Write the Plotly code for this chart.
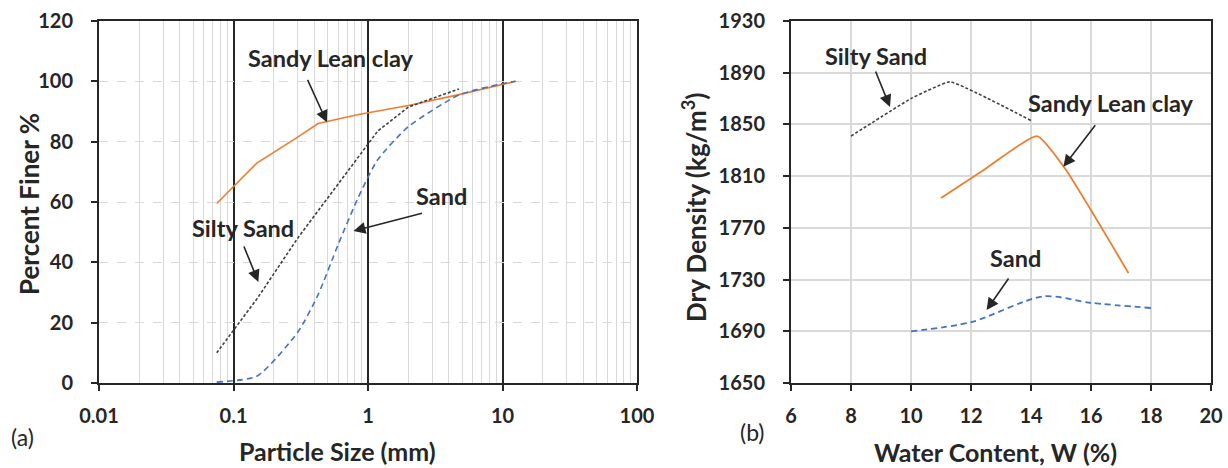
import math
import plotly.graph_objects as go

# ---------------- data: (a) particle size distribution ----------------
clay_size = [0.075, 0.15, 0.3, 0.425, 0.85, 2.0, 4.75, 9.5, 12.5]
clay_pf = [59.5, 73, 81.5, 86, 89, 92, 95.6, 98.8, 100]

silty_size = [0.075, 0.15, 0.3, 0.425, 0.85, 1.18, 2.0, 4.75]
silty_pf = [10, 28, 48, 57, 75, 83.5, 91.5, 97.5]

sand_size = [0.075, 0.15, 0.3, 0.425, 0.6, 0.85, 1.18, 2.0, 4.75, 9.5, 12.5]
sand_pf = [0.3, 2.3, 16.8, 29.2, 45.9, 61.7, 74, 85, 95.5, 99, 100]

# ---------------- data: (b) compaction curves ----------------
silty_w = [8, 10, 11.3, 14]
silty_dd = [1841, 1870, 1883, 1853]

clay_w = [11, 12.5, 14.2, 15.1, 17.25]
clay_dd = [1793, 1816, 1841, 1817, 1735]

sand_w = [10, 12, 14.4, 16, 18]
sand_dd = [1690, 1697, 1717, 1712, 1708]

x_a_ticks = [0.01, 0.1, 1, 10, 100]
x_a_labels = ["0.01", "0.1", "1", "10", "100"]
y_a_ticks = [0, 20, 40, 60, 80, 100, 120]
x_b_ticks = [6, 8, 10, 12, 14, 16, 18, 20]
y_b_ticks = [1650, 1690, 1730, 1770, 1810, 1850, 1890, 1930]

ORANGE = "#ED7D31"
BLUE = "#4472C4"
DARK = "#404040"
AXC = "#262626"
GRID = "#D9D9D9"
FONT = "Lato"

W, H = 1228, 468


def px(x):
    return x / W


def py(y):
    return 1 - y / H


fig = go.Figure()

fig.add_trace(go.Scatter(x=clay_size, y=clay_pf, mode="lines",
                         line=dict(color=ORANGE, width=1.6),
                         xaxis="x", yaxis="y", showlegend=False))
fig.add_trace(go.Scatter(x=silty_size, y=silty_pf, mode="lines",
                         line=dict(color=DARK, width=1.6, dash="3px,2px"),
                         xaxis="x", yaxis="y", showlegend=False))
fig.add_trace(go.Scatter(x=sand_size, y=sand_pf, mode="lines",
                         line=dict(color=BLUE, width=1.6, dash="6px,4px",
                                   shape="spline", smoothing=0.6),
                         xaxis="x", yaxis="y", showlegend=False))

fig.add_trace(go.Scatter(x=silty_w, y=silty_dd, mode="lines",
                         line=dict(color=DARK, width=1.6, dash="3px,2px",
                                   shape="spline", smoothing=0.3),
                         xaxis="x2", yaxis="y2", showlegend=False))
fig.add_trace(go.Scatter(x=clay_w, y=clay_dd, mode="lines",
                         line=dict(color=ORANGE, width=1.8,
                                   shape="spline", smoothing=0.5),
                         xaxis="x2", yaxis="y2", showlegend=False))
fig.add_trace(go.Scatter(x=sand_w, y=sand_dd, mode="lines",
                         line=dict(color=BLUE, width=1.8, dash="6px,4px",
                                   shape="spline", smoothing=0.8),
                         xaxis="x2", yaxis="y2", showlegend=False))

minor_vals = [m * 10 ** e for e in range(-2, 2) for m in range(2, 10)]
tickfont = dict(family=FONT, size=20, color="#262626", weight="bold")

ydom = [py(383), py(21)]

common = dict(showline=True, linecolor=AXC, linewidth=2, mirror=True,
              ticks="outside", ticklen=6, tickwidth=2, tickcolor=AXC,
              zeroline=False, automargin=False, tickfont=tickfont)

fig.update_layout(
    width=W, height=H,
    margin=dict(l=0, r=0, t=0, b=0),
    paper_bgcolor="white", plot_bgcolor="white",
    xaxis=dict(type="log", domain=[px(99), px(637)], range=[-2, 2],
               tickvals=x_a_ticks, ticktext=x_a_labels,
               showgrid=True, gridcolor=AXC, gridwidth=2,
               minor=dict(tickvals=minor_vals, showgrid=True, gridcolor=GRID,
                          gridwidth=1, ticks=""),
               ticklabelstandoff=8, anchor="y", **common),
    yaxis=dict(domain=ydom, range=[0, 120], tickvals=y_a_ticks,
               showgrid=True, gridcolor=GRID, griddash="dash", gridwidth=1.2,
               ticklabelstandoff=14, anchor="x", **common),
    xaxis2=dict(domain=[px(791), px(1211)], range=[6, 20],
                tickvals=x_b_ticks,
                showgrid=True, gridcolor=GRID, gridwidth=1.5,
                ticklabelstandoff=8, anchor="y2", **common),
    yaxis2=dict(domain=ydom, range=[1650, 1930], tickvals=y_b_ticks,
                showgrid=True, gridcolor=GRID, gridwidth=1.5,
                ticklabelstandoff=14, anchor="x2", **common),
)

ann = []
title_font = dict(family=FONT, size=25, color="#262626", weight="bold")
vtitle_font = dict(family=FONT, size=26, color="#262626", weight="bold")
label_font = dict(family=FONT, size=23.5, color="#262626", weight="bold")
panel_font = dict(family=FONT, size=23, color="#262626")

# axis titles
ann.append(dict(text="Particle Size (mm)", x=px(337), y=py(451), xref="paper", yref="paper",
                showarrow=False, font=title_font, xanchor="center", yanchor="middle"))
ann.append(dict(text="Percent Finer %", x=px(29), y=py(204), xref="paper", yref="paper",
                showarrow=False, font=vtitle_font, textangle=-90,
                xanchor="center", yanchor="middle"))
ann.append(dict(text="Water Content, W (%)", x=px(995), y=py(452), xref="paper", yref="paper",
                showarrow=False, font=title_font, xanchor="center", yanchor="middle"))
ann.append(dict(text="Dry Density (kg/m<sup>3</sup>)", x=px(694), y=py(208), xref="paper",
                yref="paper", showarrow=False, font=vtitle_font, textangle=-90,
                xanchor="center", yanchor="middle"))
ann.append(dict(text="(a)", x=px(22), y=py(437), xref="paper", yref="paper",
                showarrow=False, font=panel_font, xanchor="center", yanchor="middle"))
ann.append(dict(text="(b)", x=px(752), y=py(432), xref="paper", yref="paper",
                showarrow=False, font=panel_font, xanchor="center", yanchor="middle"))


def label(text, x, y, xr, yr):
    ann.append(dict(text=text, x=x, y=y, xref=xr, yref=yr, showarrow=False,
                    font=label_font, xanchor="center", yanchor="middle"))


def arrow(x, y, ax, ay, xr, yr):
    ann.append(dict(text="", x=x, y=y, ax=ax, ay=ay, xref=xr, yref=yr,
                    showarrow=True, arrowhead=2, arrowsize=1.5, arrowwidth=1.6,
                    arrowcolor="#262626", standoff=0, startstandoff=0))


# panel (a) labels (log axis -> log10 coordinates)
label("Sandy Lean clay", math.log10(0.53), 107.6, "x", "y")
arrow(math.log10(0.495), 86.4, -20, -44, "x", "y")
label("Silty Sand", math.log10(0.118), 51.3, "x", "y")
arrow(math.log10(0.153), 33.5, -15, -37, "x", "y")
label("Sand", math.log10(3.49), 61.9, "x", "y")
arrow(math.log10(0.78), 50.4, 70, -18, "x", "y")

# panel (b) labels
label("Silty Sand", 8.82, 1902.7, "x2", "y2")
arrow(9.3, 1863.5, -15, -37, "x2", "y2")
label("Sandy Lean clay", 16.66, 1866.6, "x2", "y2")
arrow(15.08, 1817.2, 33, -43, "x2", "y2")
label("Sand", 13.47, 1746.4, "x2", "y2")
arrow(12.52, 1706.4, 23, -33, "x2", "y2")

fig.update_layout(annotations=ann)

fig.write_html(
    "out.html",
    config={"displayModeBar": False},
    post_script="document.body.style.margin='0';document.body.style.overflow='hidden';",
)
